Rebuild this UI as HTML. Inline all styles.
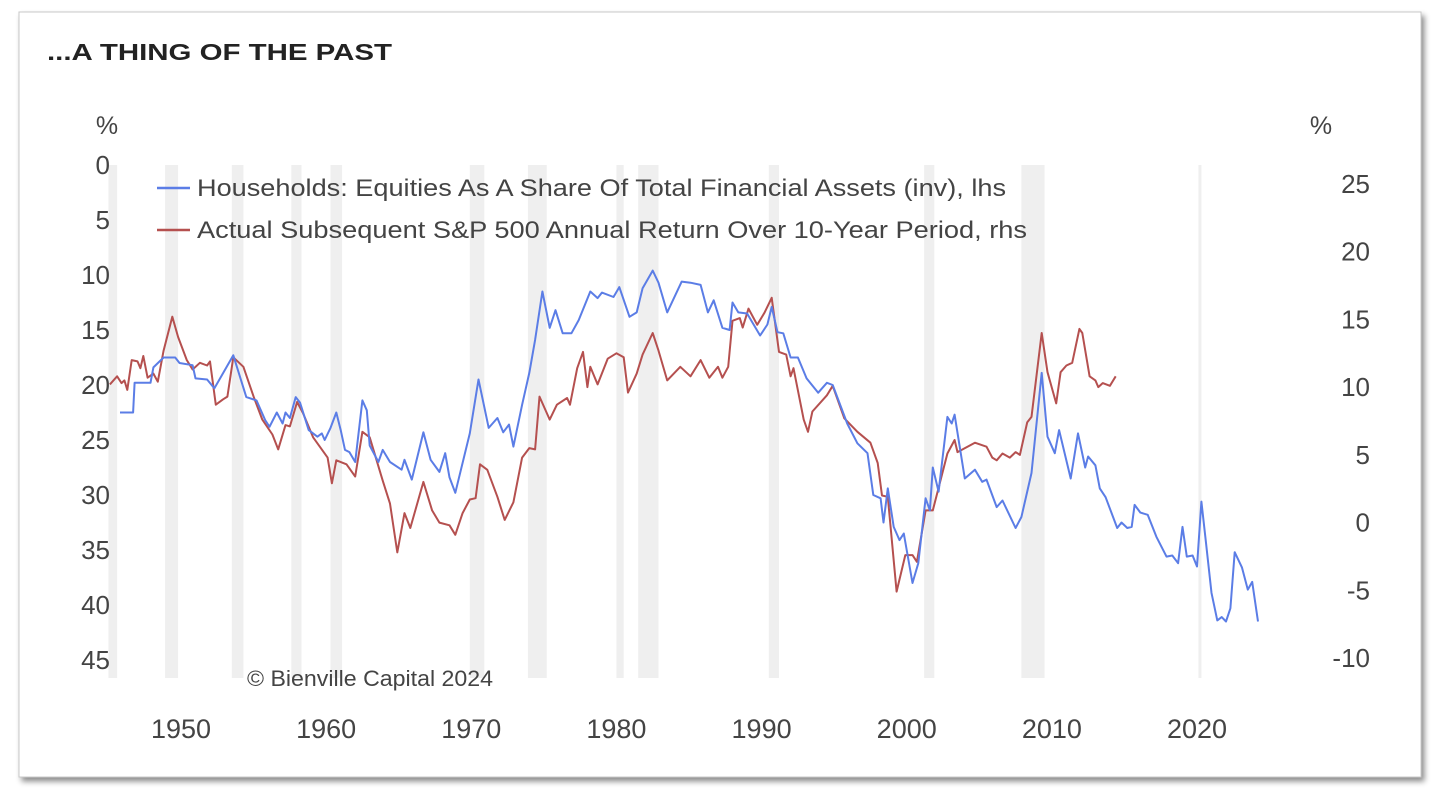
<!DOCTYPE html>
<html><head><meta charset="utf-8"><style>
html,body{margin:0;padding:0;background:#fff;width:1441px;height:806px;overflow:hidden}
svg{display:block;font-family:"Liberation Sans",sans-serif}
</style></head><body>
<svg id="chart" width="1441" height="806" viewBox="0 0 1441 806">
<defs><filter id="sh" x="-5%" y="-5%" width="110%" height="115%"><feDropShadow dx="3" dy="4" stdDeviation="3" flood-color="#000" flood-opacity="0.45"/></filter></defs>
<rect x="19" y="12" width="1402" height="765" fill="#fff" stroke="#c8c8c8" stroke-width="1" filter="url(#sh)"/>
<text x="47" y="60" font-size="23" font-weight="bold" fill="#222" textLength="345" lengthAdjust="spacingAndGlyphs">...A THING OF THE PAST</text>
<g id="bands"></g>
<g id="yl"></g>
<g id="yr"></g>
<g id="xa"></g>
<text x="107" y="134" font-size="25" fill="#444" text-anchor="middle">%</text>
<text x="1321" y="134" font-size="25" fill="#444" text-anchor="middle">%</text>
<g id="series"></g>
<g>
<g><line x1="157" y1="188" x2="190" y2="188" stroke="#5b7de6" stroke-width="2.5"/><text x="197" y="196" font-size="24" fill="#444" textLength="809" lengthAdjust="spacingAndGlyphs">Households: Equities As A Share Of Total Financial Assets (inv), lhs</text></g>
<g><line x1="157" y1="230" x2="190" y2="230" stroke="#b5504f" stroke-width="2.5"/><text x="197" y="238" font-size="24" fill="#444" textLength="830" lengthAdjust="spacingAndGlyphs">Actual Subsequent S&amp;P 500 Annual Return Over 10-Year Period, rhs</text></g>
</g>
<text x="247" y="686" font-size="22" fill="#444" textLength="246" lengthAdjust="spacingAndGlyphs">© Bienville Capital 2024</text>
</svg>
<script>
const recessions=[[1945.0,1945.6],[1948.9,1949.8],[1953.5,1954.3],[1957.6,1958.3],[1960.3,1961.1],[1969.9,1970.9],[1973.9,1975.2],[1980.0,1980.5],[1981.5,1982.9],[1990.5,1991.2],[2001.2,2001.9],[2007.9,2009.5],[2020.1,2020.3]];
const leftTicks=[0,5,10,15,20,25,30,35,40,45];
const rightTicks=[25,20,15,10,5,0,-5,-10];
const xTicks=[1950,1960,1970,1980,1990,2000,2010,2020];
const hhYears=[1945.8,1946.7,1946.8,1947.9,1948.1,1948.8,1949.6,1949.9,1950.8,1951.0,1951.8,1952.3,1953.6,1954.5,1955.2,1955.8,1956.1,1956.6,1957.0,1957.2,1957.5,1957.9,1958.2,1958.8,1959.4,1959.7,1959.9,1960.3,1960.7,1961.0,1961.3,1961.6,1962.0,1962.5,1962.8,1963.0,1963.6,1963.9,1964.4,1965.2,1965.4,1965.9,1966.7,1967.2,1967.8,1968.2,1968.5,1968.9,1969.9,1970.5,1971.2,1971.8,1972.2,1972.6,1972.9,1973.5,1974.0,1974.4,1974.9,1975.4,1975.8,1976.3,1976.9,1977.4,1978.2,1978.7,1979.0,1979.8,1980.2,1980.9,1981.4,1981.8,1982.5,1982.9,1983.5,1984.5,1985.1,1985.8,1986.3,1986.7,1987.3,1987.8,1988.0,1988.4,1989.0,1989.9,1990.4,1990.7,1991.1,1991.5,1992.0,1992.5,1993.1,1993.9,1994.5,1994.9,1995.9,1996.6,1997.3,1997.7,1998.2,1998.4,1998.7,1999.1,1999.5,1999.8,2000.4,2000.8,2001.3,2001.6,2001.8,2002.2,2002.8,2003.1,2003.3,2004.0,2004.7,2005.2,2005.5,2006.2,2006.6,2007.5,2007.9,2008.6,2009.3,2009.7,2010.2,2010.5,2011.3,2011.8,2012.3,2012.5,2013.0,2013.3,2013.7,2014.5,2014.8,2015.2,2015.5,2015.7,2016.1,2016.6,2017.2,2017.9,2018.3,2018.7,2019.0,2019.3,2019.7,2020.0,2020.3,2020.6,2021.0,2021.4,2021.7,2022.0,2022.3,2022.6,2023.1,2023.5,2023.8,2024.2];
const hhValues=[22.5,22.5,19.8,19.8,18.4,17.5,17.5,18.0,18.2,19.4,19.5,20.3,17.3,21.1,21.4,23.2,23.8,22.5,23.5,22.5,23.0,21.1,21.6,24.1,24.7,24.4,25.0,23.9,22.5,24.1,25.9,26.1,27.0,21.4,22.3,25.5,27.0,25.9,27.0,27.7,26.8,28.6,24.3,26.8,27.9,26.2,28.4,29.8,24.4,19.5,23.9,23.0,24.3,23.6,25.6,21.8,18.9,15.9,11.5,14.8,13.2,15.3,15.3,14.1,11.5,12.1,11.6,12.0,11.1,13.8,13.4,11.2,9.6,10.7,13.4,10.6,10.7,10.9,13.4,12.3,14.8,15.0,12.5,13.4,13.5,15.5,14.5,12.9,15.2,15.3,17.5,17.5,19.4,20.7,19.8,20.0,23.5,25.3,26.2,30.0,30.3,32.5,29.4,32.9,34.1,33.5,38.0,36.2,30.3,31.4,27.5,29.7,22.9,23.5,22.7,28.5,27.7,28.8,28.6,31.1,30.5,33.0,32.0,28.0,18.9,24.7,26.2,24.1,28.5,24.4,27.5,26.5,27.3,29.4,30.2,33.0,32.5,33.0,32.9,30.9,31.6,31.8,33.8,35.6,35.5,36.2,32.9,35.6,35.5,36.5,30.6,34.1,38.9,41.4,41.1,41.5,40.3,35.2,36.6,38.6,37.9,41.5];
const spYears=[1945.1,1945.6,1945.9,1946.1,1946.3,1946.6,1947.0,1947.2,1947.4,1947.7,1948.1,1948.4,1948.8,1949.4,1949.8,1950.4,1950.8,1951.3,1951.8,1952.0,1952.4,1952.9,1953.2,1953.6,1954.3,1955.0,1955.6,1956.3,1956.7,1957.2,1957.5,1958.0,1958.4,1959.1,1960.1,1960.4,1960.7,1961.4,1962.0,1962.5,1963.0,1963.9,1964.4,1964.9,1965.4,1965.8,1966.7,1967.3,1967.8,1968.5,1968.9,1969.4,1969.9,1970.3,1970.6,1971.1,1971.8,1972.3,1972.9,1973.5,1974.0,1974.4,1974.7,1975.4,1975.9,1976.6,1976.8,1977.3,1977.7,1978.0,1978.2,1978.7,1979.4,1980.0,1980.5,1980.8,1981.4,1981.8,1982.5,1982.9,1983.5,1984.4,1985.1,1985.8,1986.4,1987.0,1987.3,1987.7,1988.0,1988.5,1988.7,1989.1,1989.7,1990.2,1990.7,1991.2,1991.7,1992.0,1992.2,1992.9,1993.2,1993.5,1994.5,1994.9,1995.7,1996.6,1997.5,1998.0,1998.3,1998.7,1999.3,1999.9,2000.4,2000.7,2001.3,2001.8,2002.8,2003.3,2003.5,2004.7,2005.5,2005.9,2006.2,2006.6,2007.1,2007.5,2007.8,2008.3,2008.6,2009.3,2009.7,2010.3,2010.6,2011.0,2011.4,2011.9,2012.1,2012.6,2013.0,2013.2,2013.5,2014.0,2014.4];
const spValues=[10.2,10.8,10.3,10.5,9.8,12.0,11.9,11.4,12.3,10.7,11.0,10.4,12.7,15.2,13.7,12.0,11.3,11.8,11.6,11.9,8.7,9.1,9.3,12.2,11.5,9.3,7.6,6.5,5.4,7.2,7.1,8.9,8.1,6.3,4.8,2.9,4.6,4.3,3.4,6.7,6.3,3.1,1.4,-2.2,0.7,-0.4,3.0,0.9,0.0,-0.2,-0.9,0.7,1.7,1.8,4.3,3.9,1.9,0.2,1.5,4.8,5.5,5.4,9.3,7.6,8.7,9.2,8.7,11.4,12.6,10.0,11.5,10.2,12.1,12.5,12.2,9.6,11.0,12.4,14.0,12.7,10.5,11.5,10.8,12.0,10.7,11.5,10.7,11.5,14.9,15.1,14.4,15.8,14.6,15.5,16.6,12.6,12.4,10.8,11.4,7.6,6.7,8.2,9.4,10.1,7.7,6.7,5.9,4.4,2.0,1.9,-5.1,-2.4,-2.4,-2.9,0.9,0.9,5.1,6.1,5.2,5.9,5.6,4.8,4.6,5.1,4.8,5.2,5.0,7.4,7.8,14.0,11.1,8.8,11.1,11.6,11.8,14.3,14.0,10.8,10.5,10.0,10.3,10.1,10.8];

const NS='http://www.w3.org/2000/svg';
const x=yr=>181+(yr-1950)*(1197-181)/70;
const yL=v=>165+v*11;
const yR=v=>184+(25-v)*(658-184)/35;
function mk(tag,attrs,parent,txt){const e=document.createElementNS(NS,tag);for(const k in attrs)e.setAttribute(k,attrs[k]);if(txt!==undefined)e.textContent=txt;parent.appendChild(e);return e;}
const bands=document.getElementById('bands');
recessions.forEach(r=>{
  const e=mk('rect',{x:x(r[0]),y:165,width:Math.max(3,x(r[1])-x(r[0])),height:513,fill:'#efefef'},bands);
  
  
});
const yl=document.getElementById('yl');
leftTicks.forEach(t=>{
  const e=mk('text',{x:110,y:yL(t)+9,'font-size':26,fill:'#444','text-anchor':'end'},yl,String(t));
  
  
});
const yrg=document.getElementById('yr');
rightTicks.forEach(t=>{
  const e=mk('text',{x:1370,y:yR(t)+9,'font-size':26,fill:'#444','text-anchor':'end'},yrg,String(t));
  
  
});
const xa=document.getElementById('xa');
xTicks.forEach(t=>{
  const e=mk('text',{x:x(t),y:738,'font-size':27,fill:'#444','text-anchor':'middle'},xa,String(t));
  
  
});
const sg=document.getElementById('series');
function line(xs,vs,fy,col,name){
  const d=xs.map((yr,i)=>(i?'L':'M')+x(yr).toFixed(1)+','+fy(vs[i]).toFixed(1)).join('');
  const p=mk('path',{d:d,fill:'none',stroke:col,'stroke-width':2,'stroke-linejoin':'round'},sg);
  
  
}
line(spYears,spValues,yR,'#b5504f','sp500-return-line');
line(hhYears,hhValues,yL,'#5b7de6','household-equity-share-line');
</script>
</body></html>
